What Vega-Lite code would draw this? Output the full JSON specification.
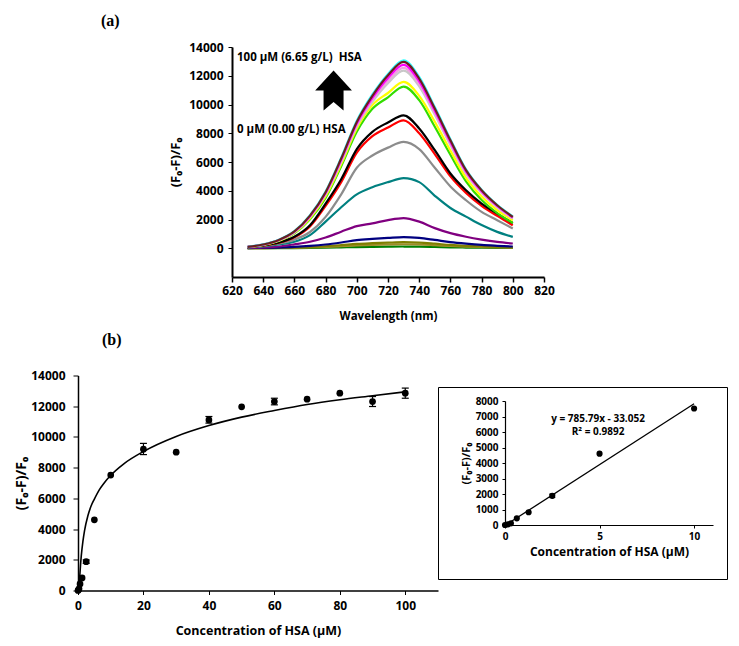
{
"$schema": "https://vega.github.io/schema/vega-lite/v6.json",
"background": "white",
"padding": {"left": 14, "top": 13, "right": 5, "bottom": 5},
"config": {
  "view": {"stroke": null},
  "font": "Open Sans",
  "axis": {"grid": false, "labelFont": "Open Sans", "labelFontWeight": "bold", "labelFontSize": 12, "labelColor": "#000", "titleFont": "Open Sans", "titleFontWeight": "bold", "titleColor": "#000", "domainColor": "#000", "tickColor": "#000", "tickSize": 4, "labelFlush": false, "labelOverlap": false, "format": "d"},
  "title": {"font": "Liberation Serif", "fontWeight": "bold", "fontSize": 16, "color": "#000", "anchor": "start", "frame": "group"}
},
"datasets": {
  "spec": [
{"s":"g","w":630,"v":2},{"s":"g","w":640,"v":4},{"s":"g","w":650,"v":8},{"s":"g","w":660,"v":14},{"s":"g","w":670,"v":25},{"s":"g","w":680,"v":40},{"s":"g","w":690,"v":62},{"s":"g","w":700,"v":85},{"s":"g","w":710,"v":100},{"s":"g","w":720,"v":112},{"s":"g","w":730,"v":120},{"s":"g","w":740,"v":112},{"s":"g","w":750,"v":90},{"s":"g","w":760,"v":66},{"s":"g","w":770,"v":50},{"s":"g","w":780,"v":36},{"s":"g","w":790,"v":26},{"s":"g","w":800,"v":19},
{"s":"br","w":630,"v":3},{"s":"br","w":640,"v":9},{"s":"br","w":650,"v":18},{"s":"br","w":660,"v":33},{"s":"br","w":670,"v":60},{"s":"br","w":680,"v":95},{"s":"br","w":690,"v":145},{"s":"br","w":700,"v":200},{"s":"br","w":710,"v":235},{"s":"br","w":720,"v":260},{"s":"br","w":730,"v":280},{"s":"br","w":740,"v":260},{"s":"br","w":750,"v":210},{"s":"br","w":760,"v":155},{"s":"br","w":770,"v":115},{"s":"br","w":780,"v":85},{"s":"br","w":790,"v":60},{"s":"br","w":800,"v":45},
{"s":"ol","w":630,"v":5},{"s":"ol","w":640,"v":14},{"s":"ol","w":650,"v":27},{"s":"ol","w":660,"v":50},{"s":"ol","w":670,"v":90},{"s":"ol","w":680,"v":140},{"s":"ol","w":690,"v":215},{"s":"ol","w":700,"v":300},{"s":"ol","w":710,"v":350},{"s":"ol","w":720,"v":390},{"s":"ol","w":730,"v":420},{"s":"ol","w":740,"v":390},{"s":"ol","w":750,"v":315},{"s":"ol","w":760,"v":230},{"s":"ol","w":770,"v":170},{"s":"ol","w":780,"v":125},{"s":"ol","w":790,"v":90},{"s":"ol","w":800,"v":65},
{"s":"nv","w":630,"v":10},{"s":"nv","w":640,"v":25},{"s":"nv","w":650,"v":50},{"s":"nv","w":660,"v":90},{"s":"nv","w":670,"v":160},{"s":"nv","w":680,"v":260},{"s":"nv","w":690,"v":400},{"s":"nv","w":700,"v":560},{"s":"nv","w":710,"v":650},{"s":"nv","w":720,"v":720},{"s":"nv","w":730,"v":780},{"s":"nv","w":740,"v":720},{"s":"nv","w":750,"v":580},{"s":"nv","w":760,"v":430},{"s":"nv","w":770,"v":320},{"s":"nv","w":780,"v":230},{"s":"nv","w":790,"v":170},{"s":"nv","w":800,"v":120},
{"s":"pu","w":630,"v":30},{"s":"pu","w":640,"v":60},{"s":"pu","w":650,"v":120},{"s":"pu","w":660,"v":270},{"s":"pu","w":670,"v":450},{"s":"pu","w":680,"v":750},{"s":"pu","w":690,"v":1150},{"s":"pu","w":700,"v":1540},{"s":"pu","w":710,"v":1730},{"s":"pu","w":720,"v":1960},{"s":"pu","w":730,"v":2100},{"s":"pu","w":740,"v":1850},{"s":"pu","w":750,"v":1400},{"s":"pu","w":760,"v":1050},{"s":"pu","w":770,"v":800},{"s":"pu","w":780,"v":600},{"s":"pu","w":790,"v":440},{"s":"pu","w":800,"v":330},
{"s":"te","w":630,"v":60},{"s":"te","w":640,"v":130},{"s":"te","w":650,"v":260},{"s":"te","w":660,"v":450},{"s":"te","w":670,"v":910},{"s":"te","w":680,"v":1850},{"s":"te","w":690,"v":2850},{"s":"te","w":700,"v":3750},{"s":"te","w":710,"v":4250},{"s":"te","w":720,"v":4600},{"s":"te","w":730,"v":4880},{"s":"te","w":740,"v":4600},{"s":"te","w":750,"v":3650},{"s":"te","w":760,"v":2800},{"s":"te","w":770,"v":2200},{"s":"te","w":780,"v":1610},{"s":"te","w":790,"v":1140},{"s":"te","w":800,"v":790},
{"s":"gy","w":630,"v":70},{"s":"gy","w":640,"v":170},{"s":"gy","w":650,"v":330},{"s":"gy","w":660,"v":600},{"s":"gy","w":670,"v":1130},{"s":"gy","w":680,"v":2180},{"s":"gy","w":690,"v":3750},{"s":"gy","w":700,"v":5600},{"s":"gy","w":710,"v":6450},{"s":"gy","w":720,"v":7000},{"s":"gy","w":730,"v":7400},{"s":"gy","w":740,"v":6900},{"s":"gy","w":750,"v":5600},{"s":"gy","w":760,"v":4300},{"s":"gy","w":770,"v":3340},{"s":"gy","w":780,"v":2530},{"s":"gy","w":790,"v":1950},{"s":"gy","w":800,"v":1370},
{"s":"rd","w":630,"v":80},{"s":"rd","w":640,"v":190},{"s":"rd","w":650,"v":380},{"s":"rd","w":660,"v":760},{"s":"rd","w":670,"v":1520},{"s":"rd","w":680,"v":2950},{"s":"rd","w":690,"v":4600},{"s":"rd","w":700,"v":6650},{"s":"rd","w":710,"v":7800},{"s":"rd","w":720,"v":8400},{"s":"rd","w":730,"v":8900},{"s":"rd","w":740,"v":8000},{"s":"rd","w":750,"v":6550},{"s":"rd","w":760,"v":5000},{"s":"rd","w":770,"v":3850},{"s":"rd","w":780,"v":2950},{"s":"rd","w":790,"v":2250},{"s":"rd","w":800,"v":1600},
{"s":"bk","w":630,"v":85},{"s":"bk","w":640,"v":200},{"s":"bk","w":650,"v":400},{"s":"bk","w":660,"v":800},{"s":"bk","w":670,"v":1600},{"s":"bk","w":680,"v":3100},{"s":"bk","w":690,"v":4800},{"s":"bk","w":700,"v":6900},{"s":"bk","w":710,"v":8100},{"s":"bk","w":720,"v":8750},{"s":"bk","w":730,"v":9250},{"s":"bk","w":740,"v":8330},{"s":"bk","w":750,"v":6820},{"s":"bk","w":760,"v":5200},{"s":"bk","w":770,"v":4030},{"s":"bk","w":780,"v":3110},{"s":"bk","w":790,"v":2410},{"s":"bk","w":800,"v":1760},
{"s":"gn","w":630,"v":80},{"s":"gn","w":640,"v":225},{"s":"gn","w":650,"v":505},{"s":"gn","w":660,"v":1030},{"s":"gn","w":670,"v":2010},{"s":"gn","w":680,"v":3500},{"s":"gn","w":690,"v":5700},{"s":"gn","w":700,"v":8100},{"s":"gn","w":710,"v":9700},{"s":"gn","w":720,"v":10500},{"s":"gn","w":730,"v":11250},{"s":"gn","w":740,"v":10300},{"s":"gn","w":750,"v":8450},{"s":"gn","w":760,"v":6500},{"s":"gn","w":770,"v":4650},{"s":"gn","w":780,"v":3350},{"s":"gn","w":790,"v":2450},{"s":"gn","w":800,"v":1760},
{"s":"ye","w":630,"v":85},{"s":"ye","w":640,"v":235},{"s":"ye","w":650,"v":530},{"s":"ye","w":660,"v":1070},{"s":"ye","w":670,"v":2090},{"s":"ye","w":680,"v":3620},{"s":"ye","w":690,"v":5850},{"s":"ye","w":700,"v":8330},{"s":"ye","w":710,"v":9960},{"s":"ye","w":720,"v":10800},{"s":"ye","w":730,"v":11570},{"s":"ye","w":740,"v":10600},{"s":"ye","w":750,"v":8800},{"s":"ye","w":760,"v":6800},{"s":"ye","w":770,"v":4900},{"s":"ye","w":780,"v":3600},{"s":"ye","w":790,"v":2650},{"s":"ye","w":800,"v":1950},
{"s":"sv","w":630,"v":88},{"s":"sv","w":640,"v":245},{"s":"sv","w":650,"v":550},{"s":"sv","w":660,"v":1110},{"s":"sv","w":670,"v":2170},{"s":"sv","w":680,"v":3740},{"s":"sv","w":690,"v":5990},{"s":"sv","w":700,"v":8480},{"s":"sv","w":710,"v":10180},{"s":"sv","w":720,"v":11480},{"s":"sv","w":730,"v":12350},{"s":"sv","w":740,"v":11260},{"s":"sv","w":750,"v":9280},{"s":"sv","w":760,"v":7170},{"s":"sv","w":770,"v":5180},{"s":"sv","w":780,"v":3840},{"s":"sv","w":790,"v":2850},{"s":"sv","w":800,"v":2060},
{"s":"pk","w":630,"v":90},{"s":"pk","w":640,"v":250},{"s":"pk","w":650,"v":560},{"s":"pk","w":660,"v":1130},{"s":"pk","w":670,"v":2200},{"s":"pk","w":680,"v":3790},{"s":"pk","w":690,"v":6070},{"s":"pk","w":700,"v":8580},{"s":"pk","w":710,"v":10320},{"s":"pk","w":720,"v":11660},{"s":"pk","w":730,"v":12550},{"s":"pk","w":740,"v":11430},{"s":"pk","w":750,"v":9420},{"s":"pk","w":760,"v":7280},{"s":"pk","w":770,"v":5260},{"s":"pk","w":780,"v":3900},{"s":"pk","w":790,"v":2890},{"s":"pk","w":800,"v":2100},
{"s":"mg","w":630,"v":92},{"s":"mg","w":640,"v":255},{"s":"mg","w":650,"v":570},{"s":"mg","w":660,"v":1150},{"s":"mg","w":670,"v":2230},{"s":"mg","w":680,"v":3840},{"s":"mg","w":690,"v":6150},{"s":"mg","w":700,"v":8680},{"s":"mg","w":710,"v":10460},{"s":"mg","w":720,"v":11850},{"s":"mg","w":730,"v":12750},{"s":"mg","w":740,"v":11610},{"s":"mg","w":750,"v":9560},{"s":"mg","w":760,"v":7390},{"s":"mg","w":770,"v":5340},{"s":"mg","w":780,"v":3960},{"s":"mg","w":790,"v":2940},{"s":"mg","w":800,"v":2140},
{"s":"cy","w":630,"v":100},{"s":"cy","w":640,"v":270},{"s":"cy","w":650,"v":595},{"s":"cy","w":660,"v":1190},{"s":"cy","w":670,"v":2300},{"s":"cy","w":680,"v":3950},{"s":"cy","w":690,"v":6300},{"s":"cy","w":700,"v":8870},{"s":"cy","w":710,"v":10700},{"s":"cy","w":720,"v":12130},{"s":"cy","w":730,"v":13080},{"s":"cy","w":740,"v":11920},{"s":"cy","w":750,"v":9820},{"s":"cy","w":760,"v":7590},{"s":"cy","w":770,"v":5490},{"s":"cy","w":780,"v":4070},{"s":"cy","w":790,"v":3020},{"s":"cy","w":800,"v":2210},
{"s":"mr","w":630,"v":95},{"s":"mr","w":640,"v":260},{"s":"mr","w":650,"v":580},{"s":"mr","w":660,"v":1170},{"s":"mr","w":670,"v":2270},{"s":"mr","w":680,"v":3900},{"s":"mr","w":690,"v":6240},{"s":"mr","w":700,"v":8790},{"s":"mr","w":710,"v":10600},{"s":"mr","w":720,"v":12030},{"s":"mr","w":730,"v":12960},{"s":"mr","w":740,"v":11800},{"s":"mr","w":750,"v":9720},{"s":"mr","w":760,"v":7510},{"s":"mr","w":770,"v":5430},{"s":"mr","w":780,"v":4030},{"s":"mr","w":790,"v":2990},{"s":"mr","w":800,"v":2180}
  ],
  "pts": [
{"c":0,"v":0},{"c":0.156,"v":45},{"c":0.3125,"v":110},{"c":0.625,"v":430},{"c":1.25,"v":820},{"c":2.5,"v":1880,"lo":1770,"hi":1990},{"c":5,"v":4600},{"c":10,"v":7515},{"c":20,"v":9200,"lo":8850,"hi":9580},{"c":30,"v":9010},{"c":40,"v":11110,"lo":10900,"hi":11330},{"c":50,"v":11960},{"c":60,"v":12300,"lo":12090,"hi":12520},{"c":70,"v":12460},{"c":80,"v":12850},{"c":90,"v":12300,"lo":11980,"hi":12630},{"c":100,"v":12850,"lo":12520,"hi":13180}
  ],
  "fit": [
{"c":0.3,"v":0},{"c":0.5,"v":800},{"c":0.75,"v":1600},{"c":1,"v":2250},{"c":1.5,"v":3200},{"c":2,"v":3900},{"c":3,"v":4850},{"c":4,"v":5500},{"c":5,"v":5950},{"c":6.5,"v":6550},{"c":8,"v":7000},{"c":10,"v":7500},{"c":14,"v":8250},{"c":20,"v":9050},{"c":30,"v":10030},{"c":40,"v":10740},{"c":50,"v":11290},{"c":60,"v":11720},{"c":70,"v":12110},{"c":80,"v":12420},{"c":90,"v":12680},{"c":100,"v":12940}
  ],
  "lin": [{"c":0,"v":-33.052},{"c":10,"v":7824.85}],
  "eq": [{"c":4.92,"v":6840,"t":"y = 785.79x - 33.052"},{"c":4.92,"v":6000,"t":"R² = 0.9892"}],
  "ann": [{"w":623.2,"v":13250,"t":"100 µM (6.65 g/L)\u00a0 HSA"},{"w":623.2,"v":8250,"t":"0 µM (0.00 g/L) HSA"}],
  "arrow": [{"w":685.1,"v":10980}]
},
"bounds": "flush",
"spacing": 328.5,
"vconcat": [
 {"bounds": "flush", "spacing": 0, "hconcat": [
   {"width": 154, "height": 230, "data": {"values": [{}]}, "mark": {"type": "point", "opacity": 0}, "encoding": {}},
   {"width": 312, "height": 230,
    "title": {"text": "(a)", "dx": -131, "offset": 12},
    "encoding": {
      "x": {"field": "w", "type": "quantitative", "scale": {"domain": [620, 820], "nice": false, "zero": false},
            "axis": {"values": [620,640,660,680,700,720,740,760,780,800,820], "title": "Wavelength (nm)", "titleFontSize": 11.5, "domainWidth": 2, "tickWidth": 1.5, "tickSize": 5, "labelPadding": 3, "titlePadding": 14}},
      "y": {"field": "v", "type": "quantitative", "scale": {"domain": [-2000, 14000], "nice": false},
            "axis": {"values": [0,2000,4000,6000,8000,10000,12000,14000], "title": "(F₀-F)/F₀", "titleFontSize": 13, "domainWidth": 2, "tickSize": 4, "labelPadding": 5, "titlePadding": 6}}
    },
    "layer": [
      {"data": {"name": "spec"}, "mark": {"type": "line", "strokeWidth": 2.2, "interpolate": "monotone"},
       "encoding": {"color": {"field": "s", "type": "nominal", "legend": null,
          "scale": {"domain": ["g","br","ol","nv","pu","te","gy","rd","bk","gn","ye","sv","pk","mg","cy","mr"],
                    "range": ["#008000","#a08c28","#7f7f00","#000080","#800080","#008080","#8c8c8c","#ff0000","#000000","#33dd00","#ffff00","#c8c8c8","#f0a0e0","#ff00ff","#33ffff","#6b1e1e"]}}}},
      {"data": {"name": "ann"}, "mark": {"type": "text", "align": "left", "baseline": "middle", "fontWeight": "bold", "fontSize": 11.5, "font": "Open Sans", "color": "#000"},
       "encoding": {"text": {"field": "t"}}},
      {"data": {"name": "arrow"}, "mark": {"type": "point", "shape": "M0,-1L0.92,0L0.5,0L0.5,1L0,0.58L-0.5,1L-0.5,0L-0.92,0Z", "filled": true, "color": "#000", "size": 1600, "opacity": 1}}
    ]
   }
 ]},
 {"bounds": "flush", "spacing": 0, "center": true, "hconcat": [
   {"width": 360, "height": 215,
    "title": {"text": "(b)", "dx": 24, "offset": 22},
    "encoding": {
      "x": {"field": "c", "type": "quantitative", "scale": {"domain": [0, 110], "nice": false},
            "axis": {"values": [0,20,40,60,80,100], "title": "Concentration of HSA (µM)", "titleFontSize": 12.5, "domainWidth": 1.5, "tickSize": 4, "labelPadding": 6, "titlePadding": 13}},
      "y": {"field": "v", "type": "quantitative", "scale": {"domain": [0, 14000], "nice": false},
            "axis": {"values": [0,2000,4000,6000,8000,10000,12000,14000], "title": "(F₀-F)/F₀", "titleFontSize": 14, "domainWidth": 1.5, "tickSize": 5, "labelPadding": 8, "titlePadding": 2}}
    },
    "layer": [
      {"data": {"name": "fit"}, "mark": {"type": "line", "color": "#000", "strokeWidth": 1.6, "interpolate": "monotone"}},
      {"data": {"name": "pts"}, "transform": [{"filter": "isValid(datum.lo)"}], "mark": {"type": "rule", "color": "#000", "strokeWidth": 1.2},
       "encoding": {"y": {"field": "lo", "type": "quantitative", "title": "(F₀-F)/F₀"}, "y2": {"field": "hi"}}},
      {"data": {"name": "pts"}, "transform": [{"filter": "isValid(datum.lo)"}], "mark": {"type": "tick", "orient": "horizontal", "size": 7, "thickness": 1.2, "color": "#000", "opacity": 1},
       "encoding": {"y": {"field": "lo", "type": "quantitative", "title": "(F₀-F)/F₀"}}},
      {"data": {"name": "pts"}, "transform": [{"filter": "isValid(datum.hi)"}], "mark": {"type": "tick", "orient": "horizontal", "size": 7, "thickness": 1.2, "color": "#000", "opacity": 1},
       "encoding": {"y": {"field": "hi", "type": "quantitative", "title": "(F₀-F)/F₀"}}},
      {"data": {"name": "pts"}, "mark": {"type": "circle", "color": "#000", "opacity": 1, "size": 45}}
    ]
   },
   {"width": 289, "height": 192,
    "view": {"stroke": "#000", "strokeWidth": 1, "fill": "white"},
    "encoding": {
      "x": {"field": "c", "type": "quantitative", "scale": {"domain": [0, 11], "range": [67, 275], "nice": false},
            "axis": {"values": [0,5,10], "offset": -54, "title": "Concentration of HSA (µM)", "titleFontSize": 12, "labelFontSize": 10, "domainWidth": 1.2, "tickSize": 3, "labelPadding": 3, "titlePadding": 5}},
      "y": {"field": "v", "type": "quantitative", "scale": {"domain": [0, 8000], "range": [138, 14], "nice": false},
            "axis": {"values": [0,1000,2000,3000,4000,5000,6000,7000,8000], "offset": -67, "title": "(F₀-F)/F₀", "titleFontSize": 11, "labelFontSize": 10, "domainWidth": 1.2, "tickSize": 3, "labelPadding": 4, "titlePadding": 4}}
    },
    "layer": [
      {"data": {"name": "lin"}, "mark": {"type": "line", "color": "#000", "strokeWidth": 1.3}},
      {"data": {"name": "pts"}, "transform": [{"filter": "datum.c <= 10 && isValid(datum.lo)"}], "mark": {"type": "rule", "color": "#000", "strokeWidth": 1.1},
       "encoding": {"y": {"field": "lo", "type": "quantitative", "title": "(F₀-F)/F₀"}, "y2": {"field": "hi"}}},
      {"data": {"name": "pts"}, "transform": [{"filter": "datum.c <= 10 && isValid(datum.lo)"}], "mark": {"type": "tick", "orient": "horizontal", "size": 6, "thickness": 1.1, "color": "#000", "opacity": 1},
       "encoding": {"y": {"field": "lo", "type": "quantitative", "title": "(F₀-F)/F₀"}}},
      {"data": {"name": "pts"}, "transform": [{"filter": "datum.c <= 10 && isValid(datum.hi)"}], "mark": {"type": "tick", "orient": "horizontal", "size": 6, "thickness": 1.1, "color": "#000", "opacity": 1},
       "encoding": {"y": {"field": "hi", "type": "quantitative", "title": "(F₀-F)/F₀"}}},
      {"data": {"name": "pts"}, "transform": [{"filter": "datum.c <= 10"}], "mark": {"type": "circle", "color": "#000", "opacity": 1, "size": 38}},
      {"data": {"name": "eq"}, "mark": {"type": "text", "fontWeight": "bold", "fontSize": 10, "font": "Open Sans", "align": "center", "baseline": "middle", "color": "#000"},
       "encoding": {"text": {"field": "t"}}}
    ]
   }
 ]}
]
}
